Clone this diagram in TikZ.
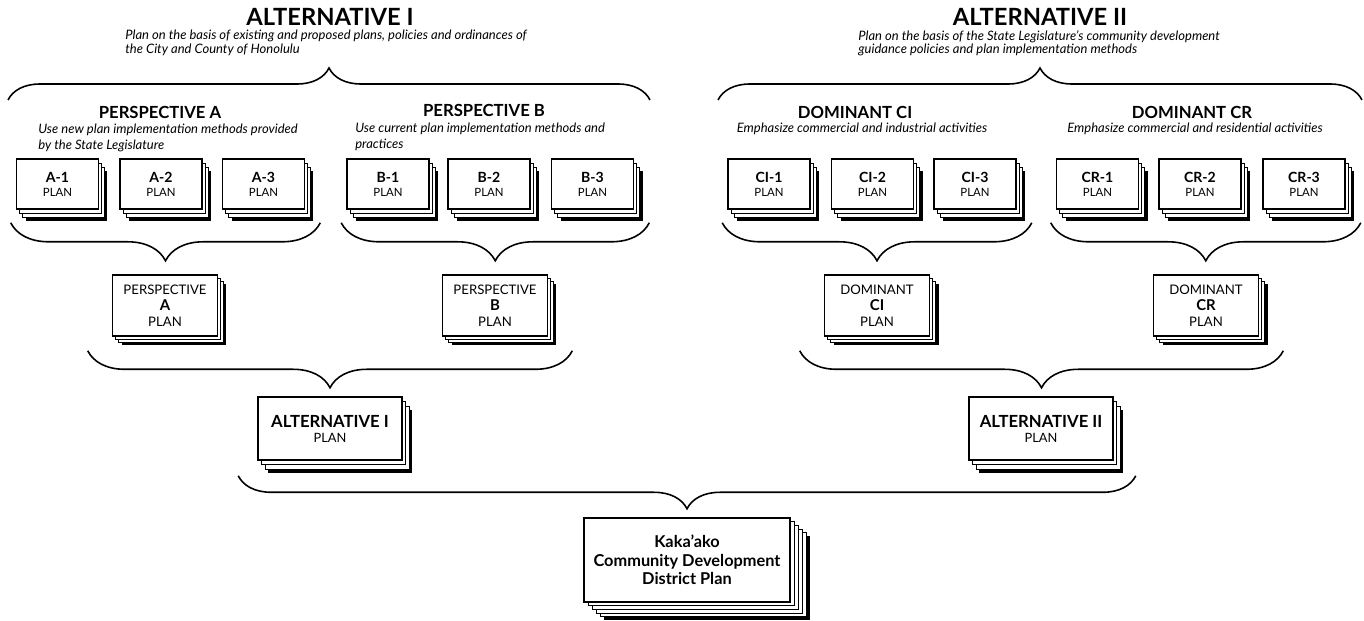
\documentclass[tikz,border=0pt]{standalone}
\usepackage{fontspec}
\setmainfont{Lato}
\usetikzlibrary{positioning,decorations.pathreplacing,shadows}

\tikzset{
  headtitle/.style={font=\fontsize{13.5}{15}\selectfont\bfseries, inner sep=0pt},
  headnote/.style={font=\fontsize{7.4}{7.6}\selectfont\itshape, align=left, inner sep=0pt},
  subtitle/.style={font=\fontsize{9.5}{10}\selectfont\bfseries, inner sep=0pt},
  subnote/.style={font=\fontsize{7.4}{8.8}\selectfont\itshape, align=left, inner sep=0pt},
  braceup/.style={decorate, decoration={brace, amplitude=#1}, line width=0.9pt},
  bracedown/.style={decorate, decoration={brace, mirror, amplitude=#1}, line width=0.9pt},
  box/.style={draw, fill=white, line width=0.9pt, align=center, inner sep=1pt},
  planbox/.style={box, minimum width=1.64cm, minimum height=1cm,
    font=\fontsize{6.5}{8}\selectfont,
    general shadow={fill=black, shadow xshift=0.18cm, shadow yshift=-0.24cm},
    general shadow={draw, fill=white, line width=0.4pt, shadow xshift=0.12cm, shadow yshift=-0.16cm},
    general shadow={draw, fill=white, line width=0.4pt, shadow xshift=0.06cm, shadow yshift=-0.08cm}},
  midbox/.style={box, minimum width=2.1cm, minimum height=1.22cm,
    font=\fontsize{7.5}{9}\selectfont,
    general shadow={fill=black, shadow xshift=0.18cm, shadow yshift=-0.18cm},
    general shadow={draw, fill=white, line width=0.4pt, shadow xshift=0.12cm, shadow yshift=-0.12cm},
    general shadow={draw, fill=white, line width=0.4pt, shadow xshift=0.06cm, shadow yshift=-0.06cm}},
  altbox/.style={box, minimum width=2.88cm, minimum height=1.26cm,
    font=\fontsize{7.3}{8.5}\selectfont,
    general shadow={fill=black, shadow xshift=0.2cm, shadow yshift=-0.26cm},
    general shadow={draw, fill=white, line width=0.4pt, shadow xshift=0.14cm, shadow yshift=-0.18cm},
    general shadow={draw, fill=white, line width=0.4pt, shadow xshift=0.07cm, shadow yshift=-0.09cm}},
  finalbox/.style={box, minimum width=4.12cm, minimum height=1.68cm,
    font=\fontsize{9.3}{10.5}\selectfont\bfseries,
    general shadow={fill=black, shadow xshift=0.4cm, shadow yshift=-0.36cm},
    general shadow={draw, fill=white, line width=0.4pt, shadow xshift=0.32cm, shadow yshift=-0.29cm},
    general shadow={draw, fill=white, line width=0.4pt, shadow xshift=0.24cm, shadow yshift=-0.22cm},
    general shadow={draw, fill=white, line width=0.4pt, shadow xshift=0.16cm, shadow yshift=-0.14cm},
    general shadow={draw, fill=white, line width=0.4pt, shadow xshift=0.08cm, shadow yshift=-0.07cm}},
}

\newcommand\planid[1]{{\fontsize{8}{8.5}\selectfont\bfseries #1}\\PLAN}
\newcommand\midplan[2]{#1\\{\fontsize{8.5}{9}\selectfont\bfseries #2}\\PLAN}
\newcommand\altplan[1]{{\fontsize{9.5}{10}\selectfont\bfseries #1}\\PLAN}

\begin{document}
\begin{tikzpicture}[x=0.02cm, y=-0.02cm]
\useasboundingbox (0,0) rectangle (1364,621);

% alternatives
\node[headtitle] (alt1head) at (330,17) {ALTERNATIVE I};
\node[headnote, anchor=north west] (alt1note) at (125,30) {Plan on the basis of existing and proposed plans, policies and ordinances of\\the City and County of Honolulu};
\node[headtitle] (alt2head) at (1040,17) {ALTERNATIVE II};
\node[headnote, anchor=north west] (alt2note) at (858,30) {Plan on the basis of the State Legislature's community development\\guidance policies and plan implementation methods};

\coordinate (alt1l) at (8,100);
\coordinate (alt1r) at (650,100);
\coordinate (alt2l) at (718,100);
\coordinate (alt2r) at (1362,100);
\draw[braceup=0.64cm] (alt1l) -- (alt1r);
\draw[braceup=0.64cm] (alt2l) -- (alt2r);

% perspectives / dominants
\node[subtitle] (pahead) at (160,112) {PERSPECTIVE A};
\node[subnote, anchor=west] (panote) at (38,138) {Use new plan implementation methods provided\\by the State Legislature};
\node[subtitle] (pbhead) at (484,110) {PERSPECTIVE B};
\node[subnote, anchor=west] (pbnote) at (355,137) {Use current plan implementation methods and\\practices};
\node[subtitle] (cihead) at (855,112) {DOMINANT CI};
\node[subnote] (cinote) at (862,129) {Emphasize commercial and industrial activities};
\node[subtitle] (crhead) at (1192,112) {DOMINANT CR};
\node[subnote] (crnote) at (1195,129) {Emphasize commercial and residential activities};

% single plans
\foreach \n/\x/\t in {a1/57.5/A-1, a2/161/A-2, a3/263.5/A-3, b1/388/B-1, b2/489/B-2, b3/592.5/B-3,
    ci1/769/CI-1, ci2/872.5/CI-2, ci3/975/CI-3, cr1/1097.5/CR-1, cr2/1200/CR-2, cr3/1304/CR-3}
  \node[planbox] (\n) at (\x,184) {\planid{\t}};

\draw[bracedown=0.76cm] ([shift={(-5,13)}]a1.south west) -- ([shift={(15,13)}]a3.south east);
\draw[bracedown=0.76cm] ([shift={(-5,13)}]b1.south west) -- ([shift={(15,13)}]b3.south east);
\draw[bracedown=0.76cm] ([shift={(-5,13)}]ci1.south west) -- ([shift={(15,13)}]ci3.south east);
\draw[bracedown=0.76cm] ([shift={(-5,13)}]cr1.south west) -- ([shift={(15,13)}]cr3.south east);

% merged plans
\node[midbox] (pa) at (165,305.5) {\midplan{PERSPECTIVE}{A}};
\node[midbox] (pb) at (495,305.5) {\midplan{PERSPECTIVE}{B}};
\node[midbox] (dci) at (877,305.5) {\midplan{DOMINANT}{CI}};
\node[midbox] (dcr) at (1206,305.5) {\midplan{DOMINANT}{CR}};

\draw[bracedown=0.74cm] ([shift={(-24,14)}]pa.south west) -- ([shift={(24,14)}]pb.south east);
\draw[bracedown=0.74cm] ([shift={(-24,14)}]dci.south west) -- ([shift={(24,14)}]dcr.south east);

\node[altbox] (alt1) at (330,428.5) {\altplan{ALTERNATIVE I}};
\node[altbox] (alt2) at (1041,428.5) {\altplan{ALTERNATIVE II}};

\draw[bracedown=0.66cm] ([shift={(-19,15)}]alt1.south west) -- ([shift={(22,15)}]alt2.south east);

\node[finalbox] (kaka) at (687,560) {Kaka'ako\\Community Development\\District Plan};
\end{tikzpicture}
\end{document}
